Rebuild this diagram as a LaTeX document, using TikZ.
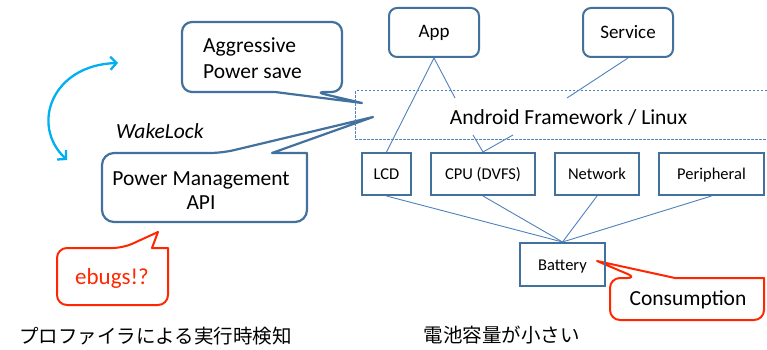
\documentclass[tikz,border=0pt]{standalone}
\usepackage{fontspec}
\setmainfont{Carlito}
\newfontfamily\jpfont{Noto Sans CJK JP}
\usetikzlibrary{arrows.meta}
\definecolor{boxblue}{RGB}{65,113,156}
\definecolor{lineblue}{RGB}{79,129,189}
\definecolor{callred}{RGB}{255,38,0}
\definecolor{arrcyan}{RGB}{0,176,240}
\begin{document}
\begin{tikzpicture}[x=1pt,y=-1pt,
  rbox/.style={draw=boxblue,line width=2pt,rounded corners=8pt,minimum width=90pt,minimum height=49pt,inner sep=0pt,font=\fontsize{19}{22}\selectfont},
  sbox/.style={draw=boxblue,line width=2pt,minimum height=42pt,inner sep=0pt,text height=11pt,text depth=0pt,font=\fontsize{16.5}{19}\selectfont},
  conn/.style={draw=lineblue,line width=0.9pt},
  callblue/.style={draw=boxblue,line width=2.2pt,line join=round},
  callredst/.style={draw=callred,line width=2pt,line join=round},
  bigtext/.style={font=\fontsize{21.5}{26}\selectfont,inner sep=0pt},
  jptext/.style={font=\jpfont\fontsize{19.5}{23}\selectfont,inner sep=0pt},
  cybarb/.tip={Straight Barb[length=6pt,width=13pt]}]
\fill[white] (0,0) rectangle (767,350);
\useasboundingbox (0,0) rectangle (767,350);

% callouts
\draw[callblue] (275,92) [rounded corners=10pt] -- (182,92) -- (182,22) -- (342,22) -- (342,92) -- (315,92) [sharp corners] -- (362,103) -- cycle;
\draw[callblue] (307,190) [rounded corners=12pt] -- (307,222) -- (102,222) -- (102,153) -- (222,153) [sharp corners] -- (373,117) -- (272,153) -- (307,153) [rounded corners=12pt] -- cycle;
\draw[callredst] (57,280) [rounded corners=10pt] -- (57,248) -- (123,248) [sharp corners] -- (158,232) -- (152,248) -- (168,248) [rounded corners=10pt] -- (168,305) -- (57,305) -- cycle;
\draw[callredst] (610,300) [rounded corners=10pt] -- (610,278) -- (637,278) [sharp corners] -- (597,261) -- (675,278) -- (764,278) [rounded corners=10pt] -- (764,320) -- (610,320) -- cycle;

% callout texts
\node[bigtext,anchor=base west] (agg1) at (203,53) {Aggressive};
\node[bigtext,anchor=base west] (agg2) at (203,79) {Power save};
\node[bigtext,anchor=base] (pm1) at (201,185) {Power Management};
\node[bigtext,anchor=base] (pm2) at (201,209) {API};
\node[inner sep=0pt,anchor=base west,font=\fontsize{21.5}{26}\selectfont\itshape] (wl) at (116,138) {WakeLock};
\node[inner sep=0pt,anchor=base,text=callred,font=\fontsize{23}{27}\selectfont] (eb) at (112,284) {ebugs!?};
\node[bigtext,anchor=base] (cons) at (688,305) {Consumption};

% cyan double arrow
\coordinate (cyA) at (118,63);
\coordinate (cyB) at (67,160);
\draw[arrcyan,line width=2.3pt,{cybarb}-{cybarb}] (cyA) .. controls (52,65) and (30,125) .. (cyB);

% framework
\draw[lineblue,line width=1pt,dash pattern=on 2.5pt off 1.5pt] (767,91) -- (355,91) -- (355,139) -- (767,139);
\node[bigtext] (fw) at (568.5,117) {Android Framework / Linux};

% boxes
\node[rbox] (app) at (434,32.5) {App};
\node[rbox] (svc) at (628,32.5) {Service};
\node[sbox,minimum width=49pt] (lcd) at (386.5,174) {LCD};
\node[sbox,minimum width=104pt] (cpu) at (483,174) {CPU (DVFS)};
\node[sbox,minimum width=84pt] (net) at (597,174) {Network};
\node[sbox,minimum width=105pt] (per) at (711.5,174) {Peripheral};
\node[sbox,minimum width=85pt,minimum height=43pt] (bat) at (562.5,264.5) {Battery};

% connectors
\coordinate (fwA) at (455,98);
\coordinate (fwS) at (567,98);
\coordinate (fwC1) at (473,135);
\coordinate (fwC2) at (513,135);
\draw[conn] (app.south) -- (lcd.north);
\draw[conn] (app.south) -- (fwA);
\draw[conn] (svc.south) -- (fwS);
\draw[conn] (cpu.north) -- (fwC1);
\draw[conn] (cpu.north) -- (fwC2);
\draw[conn] (lcd.south) -- (bat.north);
\draw[conn] (cpu.south) -- (bat.north);
\draw[conn] (net.south) -- (bat.north);
\draw[conn] (per.south) -- (bat.north);

% japanese captions
\node[jptext] (jp1) at (155.5,336) {プロファイラによる実行時検知};
\node[jptext] (jp2) at (501.5,335) {電池容量が小さい};
\end{tikzpicture}
\end{document}
